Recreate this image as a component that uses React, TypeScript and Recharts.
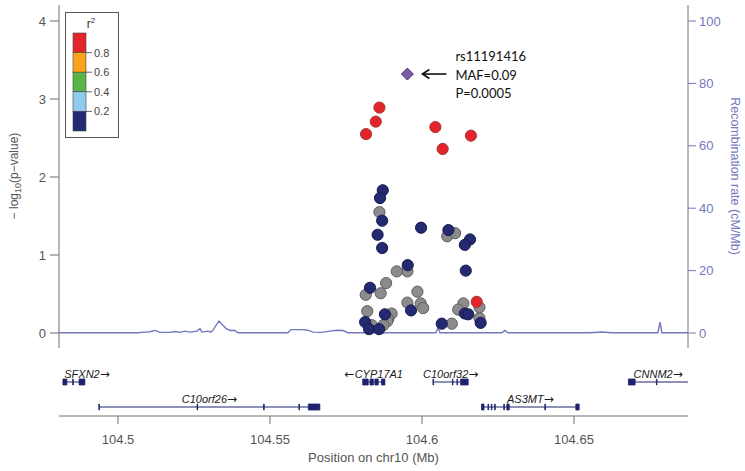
import React from "react";
import {
  ComposedChart,
  Line,
  ReferenceArea,
  ReferenceDot,
  ReferenceLine,
  Scatter,
  XAxis,
  YAxis,
} from "recharts";

// chr10 window shown, in Mb
const X_DOMAIN: [number, number] = [104.4806, 104.6875];
const POS_TICKS = [104.5, 104.55, 104.6, 104.65];
const LOGP_TICKS = [0, 1, 2, 3, 4];
const RATE_TICKS = [0, 20, 40, 60, 80, 100];

const leadSnp = [{ pos: 104.5952, logp: 3.32, name: "rs11191416", maf: "0.09", p: "0.0005" }];

// r2 >= 0.8
const highLdSnps = [
  { pos: 104.586, logp: 2.89 },
  { pos: 104.5848, logp: 2.71 },
  { pos: 104.5816, logp: 2.55 },
  { pos: 104.6044, logp: 2.64 },
  { pos: 104.6068, logp: 2.36 },
  { pos: 104.6161, logp: 2.53 },
  { pos: 104.618, logp: 0.4 },
];

// r2 < 0.2
const lowLdSnps = [
  { pos: 104.5871, logp: 1.83 },
  { pos: 104.5862, logp: 1.73 },
  { pos: 104.5869, logp: 1.44 },
  { pos: 104.5854, logp: 1.26 },
  { pos: 104.5869, logp: 1.09 },
  { pos: 104.5997, logp: 1.35 },
  { pos: 104.6087, logp: 1.32 },
  { pos: 104.6158, logp: 1.2 },
  { pos: 104.6141, logp: 1.13 },
  { pos: 104.5953, logp: 0.87 },
  { pos: 104.6144, logp: 0.8 },
  { pos: 104.5829, logp: 0.58 },
  { pos: 104.5964, logp: 0.29 },
  { pos: 104.5878, logp: 0.24 },
  { pos: 104.5813, logp: 0.14 },
  { pos: 104.5826, logp: 0.05 },
  { pos: 104.5859, logp: 0.05 },
  { pos: 104.6065, logp: 0.12 },
  { pos: 104.6141, logp: 0.25 },
  { pos: 104.6152, logp: 0.24 },
  { pos: 104.6193, logp: 0.13 },
];

// no LD information (grey)
const noLdSnps = [
  { pos: 104.586, logp: 1.55 },
  { pos: 104.6083, logp: 1.24 },
  { pos: 104.6109, logp: 1.28 },
  { pos: 104.5952, logp: 0.79 },
  { pos: 104.5917, logp: 0.79 },
  { pos: 104.5882, logp: 0.64 },
  { pos: 104.5815, logp: 0.49 },
  { pos: 104.5864, logp: 0.51 },
  { pos: 104.5985, logp: 0.53 },
  { pos: 104.5952, logp: 0.39 },
  { pos: 104.5996, logp: 0.38 },
  { pos: 104.6004, logp: 0.32 },
  { pos: 104.582, logp: 0.28 },
  { pos: 104.59, logp: 0.25 },
  { pos: 104.5889, logp: 0.18 },
  { pos: 104.5886, logp: 0.15 },
  { pos: 104.5835, logp: 0.1 },
  { pos: 104.5873, logp: 0.1 },
  { pos: 104.6098, logp: 0.12 },
  { pos: 104.6136, logp: 0.38 },
  { pos: 104.6119, logp: 0.3 },
  { pos: 104.6189, logp: 0.33 },
  { pos: 104.6189, logp: 0.19 },
];

const recombPos = [
  104.4806, 104.5066, 104.5089, 104.5105, 104.5122, 104.5138, 104.5171, 104.5188, 104.5204,
  104.522, 104.5237, 104.526, 104.527, 104.5276, 104.5296, 104.5306, 104.5313, 104.5332,
  104.5355, 104.5368, 104.5382, 104.5395, 104.5559, 104.5569, 104.5605, 104.5625, 104.5641,
  104.5671, 104.5697, 104.572, 104.574, 104.5757, 104.6046, 104.6053, 104.6059, 104.6263,
  104.6273, 104.6283, 104.6553, 104.6592, 104.6625, 104.6776, 104.6783, 104.6789, 104.6875,
];
const recombRate = [
  0.1, 0.1, 0.3, 0.4, 0.85, 0.2, 0.2, 0.5, 0.2, 0.6, 0.3, 0.6, 1.4, 0.3, 0.6, 0.3, 1.0, 3.85,
  1.5, 0.8, 0.9, 0.1, 0.1, 1.1, 1.1, 0.9, 0.3, 0.2, 0.6, 0.9, 0.8, 0.1, 0.1, 1.9, 0.1, 0.1,
  0.85, 0.1, 0.1, 0.35, 0.1, 0.1, 3.5, 0.1, 0.1,
];
const recombData = recombPos.map((pos, i) => ({ pos, rate: recombRate[i] }));

const ldLegendColors = ["#e3242b", "#f9a31b", "#5bb546", "#8fcbee", "#232a72"];
const ldLegendLabels = ["0.8", "0.6", "0.4", "0.2"];

type Gene = { name: string; strand: "+" | "-"; track: number; start: number; end: number; exons: number[][] };

const genes: Gene[] = [
  { name: "SFXN2", strand: "+", track: 2, start: 104.4819, end: 104.4891, exons: [[104.4819, 104.4832], [104.4851, 104.4853], [104.4872, 104.4891]] },
  { name: "C10orf26", strand: "+", track: 1, start: 104.4938, end: 104.5664, exons: [[104.4937, 104.4939], [104.526, 104.5262], [104.5479, 104.5481], [104.5595, 104.5597], [104.5626, 104.5664]] },
  { name: "CYP17A1", strand: "-", track: 2, start: 104.5805, end: 104.5878, exons: [[104.5805, 104.5823], [104.5829, 104.584], [104.5845, 104.5856], [104.5867, 104.5878]] },
  { name: "C10orf32", strand: "+", track: 2, start: 104.6037, end: 104.6152, exons: [[104.6036, 104.6038], [104.61, 104.6102], [104.6115, 104.6117], [104.6127, 104.6152]] },
  { name: "AS3MT", strand: "+", track: 1, start: 104.6196, end: 104.6517, exons: [[104.6196, 104.6204], [104.6217, 104.6219], [104.6228, 104.623], [104.6239, 104.6241], [104.6269, 104.6271], [104.6279, 104.6287], [104.6404, 104.6406], [104.6506, 104.6517]] },
  { name: "CNNM2", strand: "+", track: 2, start: 104.6679, end: 104.73, exons: [[104.6679, 104.6701], [104.6771, 104.6773]] },
];

const PLOT_LEFT = 59;
const PLOT_RIGHT = 688;
const FRAME = "#707070";
const AXIS_TEXT = "#555555";
const RECOMB = "#7478bd";
const GENE = "#1f236e";
const SANS = "'Liberation Sans', Arial, sans-serif";

const dotShape = (fill: string, stroke: string) => (props: any) => (
  <circle cx={props.cx} cy={props.cy} r={5.6} fill={fill} stroke={stroke} strokeWidth={1} />
);

const diamondShape = (props: any) => {
  const { cx, cy } = props;
  return (
    <polygon
      points={`${cx},${cy - 6} ${cx + 6},${cy} ${cx},${cy + 6} ${cx - 6},${cy}`}
      fill="#7b5aa8"
      stroke="#4b3575"
      strokeWidth={1}
    />
  );
};

const LeadLabel = (props: any) => {
  const { x, y, width, height } = props.viewBox;
  const cx = x + width / 2;
  const cy = y + height / 2;
  const snp = leadSnp[0];
  return (
    <g>
      <line x1={cx + 39} y1={cy} x2={cx + 15} y2={cy} stroke="#111" strokeWidth={1.6} />
      <polyline points={`${cx + 22},${cy - 4.5} ${cx + 15},${cy} ${cx + 22},${cy + 4.5}`} fill="none" stroke="#111" strokeWidth={1.6} />
      <text fontFamily="Lato, 'Open Sans', sans-serif" fontSize={13} fill="#111">
        <tspan x={cx + 48} y={cy - 13}>{snp.name}</tspan>
        <tspan x={cx + 48} y={cy + 6}>{`MAF=${snp.maf}`}</tspan>
        <tspan x={cx + 48} y={cy + 24}>{`P=${snp.p}`}</tspan>
      </text>
    </g>
  );
};

const ARROW_FONT = "'DejaVu Sans', sans-serif";

const geneLabel = (g: Gene) => (props: any) => {
  const vb = props.viewBox;
  const w = g.name.length * 7.2 + 14;
  let cx = vb.x + vb.width / 2;
  cx = Math.max(PLOT_LEFT + 3 + w / 2, Math.min(PLOT_RIGHT - 2 - w / 2, cx));
  const arrow = <tspan fontFamily={ARROW_FONT} fontStyle="normal" fontSize={12}>{g.strand === "+" ? "\u2192" : "\u2190"}</tspan>;
  return (
    <text x={cx} y={vb.y - 4} textAnchor="middle" fontStyle="italic" fontSize={11} fill="#1a1a1a" fontFamily={SANS}>
      {g.strand === "-" && arrow}
      {g.name}
      {g.strand === "+" && arrow}
    </text>
  );
};

function AssociationPanel() {
  return (
    <ComposedChart width={745} height={350} margin={{ top: 5, right: 12, bottom: 2, left: 19 }}>
      <XAxis xAxisId="b" dataKey="pos" type="number" domain={X_DOMAIN} allowDataOverflow height={0} tick={false} tickLine={false} axisLine={{ stroke: FRAME }} />
      <XAxis xAxisId="t" orientation="top" type="number" domain={X_DOMAIN} allowDataOverflow height={0} tick={false} tickLine={false} axisLine={{ stroke: FRAME }} />
      <YAxis
        yAxisId="left"
        dataKey="logp"
        type="number"
        domain={[-0.192, 4.205]}
        allowDataOverflow
        ticks={LOGP_TICKS}
        width={40}
        tickSize={9}
        tickMargin={4}
        axisLine={{ stroke: FRAME }}
        tickLine={{ stroke: FRAME }}
        tick={{ fill: AXIS_TEXT, fontSize: 13, fontFamily: SANS }}
      />
      <YAxis
        yAxisId="right"
        orientation="right"
        dataKey="rate"
        type="number"
        domain={[-4.8, 105.13]}
        allowDataOverflow
        ticks={RATE_TICKS}
        width={45}
        tickSize={8}
        tickMargin={3}
        axisLine={{ stroke: FRAME }}
        tickLine={{ stroke: RECOMB }}
        tick={{ fill: RECOMB, fontSize: 13, fontFamily: SANS, textAnchor: "start" }}
      />
      <Line xAxisId="b" yAxisId="right" data={recombData} dataKey="rate" type="linear" stroke={RECOMB} strokeWidth={1.4} dot={false} isAnimationActive={false} />
      <Scatter xAxisId="b" yAxisId="left" data={noLdSnps} shape={dotShape("#8c8c8c", "#5e5e5e")} isAnimationActive={false} />
      <Scatter xAxisId="b" yAxisId="left" data={lowLdSnps} shape={dotShape("#232a72", "#181c4c")} isAnimationActive={false} />
      <Scatter xAxisId="b" yAxisId="left" data={highLdSnps} shape={dotShape("#e3242b", "#a33a38")} isAnimationActive={false} />
      <Scatter xAxisId="b" yAxisId="left" data={leadSnp} shape={diamondShape} isAnimationActive={false} />
      <ReferenceDot xAxisId="b" yAxisId="left" x={leadSnp[0].pos} y={leadSnp[0].logp} r={1} fill="none" stroke="none" label={LeadLabel} />
    </ComposedChart>
  );
}

function GenePanel() {
  return (
    <ComposedChart width={745} height={121} margin={{ top: 14, right: 57, bottom: 15, left: 59 }}>
      <XAxis
        xAxisId="b"
        dataKey="pos"
        type="number"
        domain={X_DOMAIN}
        allowDataOverflow
        ticks={POS_TICKS}
        height={40}
        tickSize={8}
        tickMargin={11}
        axisLine={{ stroke: FRAME }}
        tickLine={{ stroke: FRAME }}
        tick={{ fill: AXIS_TEXT, fontSize: 13, fontFamily: SANS }}
      />
      <XAxis xAxisId="t" orientation="top" type="number" domain={X_DOMAIN} allowDataOverflow height={0} tick={false} tickLine={false} axisLine={{ stroke: FRAME }} />
      <YAxis yAxisId="g" type="number" domain={[0.64, 2.72]} allowDataOverflow width={0} tick={false} tickLine={false} axisLine={{ stroke: FRAME }} />
      <YAxis yAxisId="r" orientation="right" type="number" domain={[0.64, 2.72]} allowDataOverflow width={0} tick={false} tickLine={false} axisLine={{ stroke: FRAME }} />
      {genes.map((g) => (
        <ReferenceLine
          key={`${g.name}-line`}
          xAxisId="b"
          yAxisId="g"
          segment={[
            { x: g.start, y: g.track },
            { x: Math.min(g.end, X_DOMAIN[1]), y: g.track },
          ]}
          stroke={GENE}
          strokeWidth={1}
          ifOverflow="visible"
          label={geneLabel(g)}
        />
      ))}
      {genes.flatMap((g) =>
        g.exons.map(([a, b], i) => (
          <ReferenceArea
            key={`${g.name}-exon-${i}`}
            xAxisId="b"
            yAxisId="g"
            x1={a}
            x2={b}
            y1={g.track - 0.12}
            y2={g.track + 0.12}
            fill={GENE}
            fillOpacity={1}
            stroke={GENE}
            strokeWidth={0.8}
            ifOverflow="visible"
          />
        ))
      )}
    </ComposedChart>
  );
}

function Overlay() {
  const segH = 19.6;
  return (
    <svg width={745} height={471} style={{ position: "absolute", left: 0, top: 0, pointerEvents: "none" }}>
      <text transform="translate(18,176) rotate(-90)" textAnchor="middle" fontSize={12} fill={AXIS_TEXT} fontFamily={SANS}>
        {"\u2212 log"}
        <tspan fontSize={9} dy={3}>10</tspan>
        <tspan dy={-3}>{"(p\u2212value)"}</tspan>
      </text>
      <text transform="translate(731,176) rotate(90)" textAnchor="middle" fontSize={12.5} fill={RECOMB} fontFamily={SANS}>
        Recombination rate (cM/Mb)
      </text>
      <text x={373.5} y={462} textAnchor="middle" fontSize={13} fill={AXIS_TEXT} fontFamily={SANS}>
        Position on chr10 (Mb)
      </text>
      <g>
        <rect x={65.5} y={12.5} width={53} height={125} fill="#fff" stroke="#555" strokeWidth={1} />
        <text x={91} y={28} textAnchor="middle" fontSize={12} fill="#333" fontFamily={SANS}>
          r<tspan fontSize={8} dy={-5}>2</tspan>
        </text>
        {ldLegendColors.map((c, i) => (
          <rect key={c} x={73} y={33 + i * segH} width={13} height={segH} fill={c} stroke="#444" strokeWidth={0.6} />
        ))}
        {ldLegendLabels.map((l, i) => (
          <g key={l}>
            <line x1={86} x2={92} y1={33 + (i + 1) * segH} y2={33 + (i + 1) * segH} stroke="#444" strokeWidth={0.8} />
            <text x={94} y={33 + (i + 1) * segH + 4} fontSize={11} fill="#444" fontFamily={SANS}>
              {l}
            </text>
          </g>
        ))}
      </g>
    </svg>
  );
}

export default function App() {
  return (
    <div style={{ position: "relative", width: 745, height: 471, background: "#fff" }}>
      <style>{"body{margin:0}"}</style>
      <div style={{ position: "absolute", left: 0, top: 0 }}>
        <AssociationPanel />
      </div>
      <div style={{ position: "absolute", left: 0, top: 350 }}>
        <GenePanel />
      </div>
      <Overlay />
    </div>
  );
}
